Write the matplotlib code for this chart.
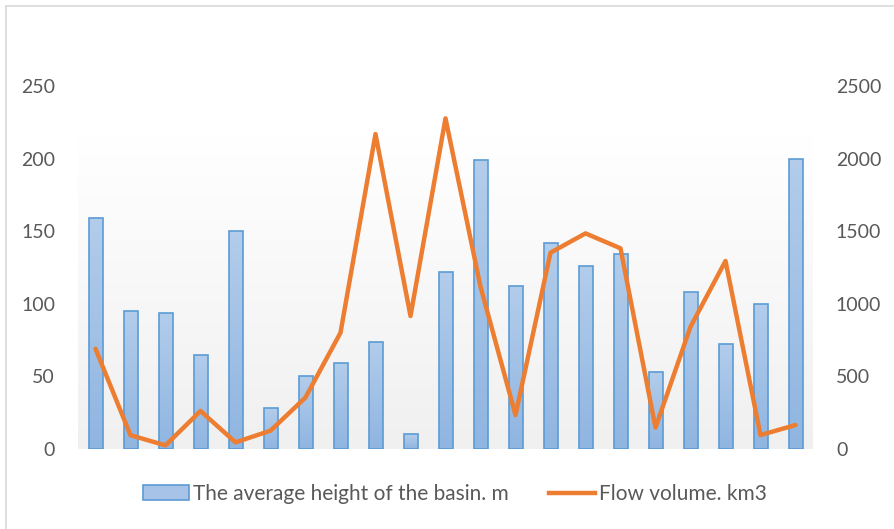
import numpy as np
import matplotlib
matplotlib.use("Agg")
import matplotlib.pyplot as plt
from matplotlib.colors import LinearSegmentedColormap
from matplotlib.patches import Rectangle
from matplotlib.lines import Line2D

plt.rcParams['font.family'] = ['Lato', 'DejaVu Sans']

categories = list(range(1, 22))
basin_height = [159, 95, 94, 65, 150, 28, 50, 59, 74, 10, 122, 199, 112, 142, 126, 134, 53, 108, 72, 100, 200]
flow_volume = [690, 95, 25, 262, 46, 126, 355, 801, 2169, 916, 2277, 1118, 234, 1352, 1485, 1382, 147, 842, 1295, 96, 165]
left_ticks = [0, 50, 100, 150, 200, 250]
right_ticks = [0, 500, 1000, 1500, 2000, 2500]
bar_label = "The average height of the basin. m"
line_label = "Flow volume. km3"

fig = plt.figure(figsize=(8.94, 5.29), dpi=100)
# chart border (top and left visible)
fig.add_artist(Line2D([6/894, 1.0], [1-6/529, 1-6/529], color='#d9d9d9', lw=1.2))
fig.add_artist(Line2D([6/894, 6/894], [0, 1-6/529], color='#d9d9d9', lw=1.2))

ax = fig.add_axes([78/894, 1-449/529, (813-78)/894, (449-86)/529])
x = np.arange(len(categories))
ax.set_xlim(-0.5, len(categories) - 0.5)
ax.set_ylim(0, 250)

# plot-area gradient background
bg = LinearSegmentedColormap.from_list('bg', ['#f0f0f0', '#ffffff'])
ax.imshow(np.linspace(0, 1, 256).reshape(-1, 1), cmap=bg, aspect='auto',
          extent=(-0.5, len(categories) - 0.5, 0, 216), origin='lower', zorder=0)

bars = ax.bar(x, basin_height, width=0.4, color='none', edgecolor='#5b9bd5', linewidth=1.2, zorder=2)
barcmap = LinearSegmentedColormap.from_list('bar', ['#8fb5e1', '#b3cdeb'])
for b in bars:
    x0, y0, w, h = b.get_x(), b.get_y(), b.get_width(), b.get_height()
    im = ax.imshow(np.linspace(0, 1, 256).reshape(-1, 1), cmap=barcmap, aspect='auto',
                   extent=(x0, x0 + w, y0, y0 + h), origin='lower', zorder=1.5)
    im.set_clip_path(b)

ax.set_xlim(-0.5, len(categories) - 0.5)
ax.set_ylim(0, 250)
ax.set_yticks(left_ticks)
ax.set_xticks([])
for s in ax.spines.values():
    s.set_visible(False)
ax.tick_params(axis='y', length=0, pad=16.5, labelsize=14, labelcolor='#595959')

ax2 = ax.twinx()
ax2.plot(x, flow_volume, color='#ed7d31', lw=3.2, solid_joinstyle='round', solid_capstyle='round', zorder=3)
ax2.set_ylim(0, 2500)
ax2.set_yticks(right_ticks)
for s in ax2.spines.values():
    s.set_visible(False)
ax2.tick_params(axis='y', length=0, pad=16.5, labelsize=14, labelcolor='#595959')

handles = [Rectangle((0, 0), 1, 1, facecolor='#a7c4e8', edgecolor='#5b9bd5', lw=1.2),
           Line2D([0], [0], color='#ed7d31', lw=3.2)]
fig.legend(handles, [bar_label, line_label], loc='center', bbox_to_anchor=(455/894, 1-494/529),
           ncol=2, frameon=False, fontsize=15, labelcolor='#595959', handlelength=2.2,
           handletextpad=0.2, columnspacing=1.9)

fig.savefig('out.png', dpi=100)
